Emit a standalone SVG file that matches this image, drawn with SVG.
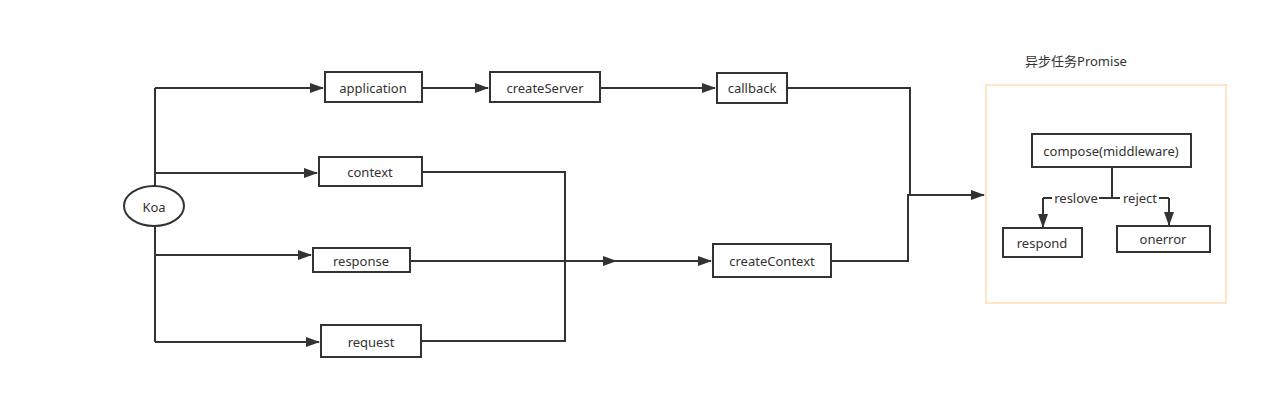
<svg xmlns="http://www.w3.org/2000/svg" width="1288" height="420" viewBox="0 0 1288 420">
<defs>
<marker id="arr" markerWidth="14" markerHeight="10" refX="13" refY="5" orient="auto" markerUnits="userSpaceOnUse">
<path d="M0,0 L14,5 L0,10 Z" fill="#333"/>
</marker>
<style>
.box{fill:#fff;stroke:#333;stroke-width:2}
.lbl{font-family:"Noto Sans","Noto Sans CJK SC",sans-serif;font-size:13px;fill:#333;text-anchor:middle;dominant-baseline:central}
.ln{fill:none;stroke:#333;stroke-width:2}
</style>
</defs>
<rect width="1288" height="420" fill="#fff"/>
<g id="connectors">
<path class="ln" d="M155,88 L155,342"/>
<path class="ln" d="M155,88 L323,88" marker-end="url(#arr)"/>
<path class="ln" d="M155,173 L317,173" marker-end="url(#arr)"/>
<path class="ln" d="M155,255 L311,255" marker-end="url(#arr)"/>
<path class="ln" d="M155,342 L319,342" marker-end="url(#arr)"/>
<path class="ln" d="M422,88 L488,88" marker-end="url(#arr)"/>
<path class="ln" d="M600,88 L715,88" marker-end="url(#arr)"/>
<path class="ln" d="M422,172 L565,172 L565,261 L711,261" marker-end="url(#arr)"/>
<path class="ln" d="M421,341 L565,341 L565,261"/>
<path class="ln" d="M410,261 L616,261" marker-end="url(#arr)" stroke-width="2.5"/>
<path class="ln" d="M787,88 L910,88 L910,195"/>
<path class="ln" d="M831,261 L908,261 L908,195 L984,195" marker-end="url(#arr)"/>
<path class="ln" d="M1112,167 L1112,198"/>
<path class="ln" d="M1043,198 L1169,198"/>
<path class="ln" d="M1043,198 L1043,227" marker-end="url(#arr)"/>
<path class="ln" d="M1169,198 L1169,225" marker-end="url(#arr)"/>
<rect x="1052" y="191" width="47" height="14" fill="#fff"/>
<text class="lbl" x="1076" y="198">reslove</text>
<rect x="1120" y="191" width="39" height="14" fill="#fff"/>
<text class="lbl" x="1140" y="198">reject</text>
</g>
<g id="promise">
<rect x="986" y="85" width="240" height="218" fill="none" stroke="#ffe4c8" stroke-width="2"/>
<text class="lbl" x="1076" y="61">异步任务Promise</text>
</g>
<g id="koa"><ellipse cx="154" cy="206" rx="30" ry="20" class="box"/><text class="lbl" x="154" y="207">Koa</text></g>
<g id="application"><rect class="box" x="325" y="72" width="97" height="30"/><text class="lbl" x="373" y="88">application</text></g>
<g id="createServer"><rect class="box" x="490" y="72" width="110" height="30"/><text class="lbl" x="545" y="88">createServer</text></g>
<g id="callback"><rect class="box" x="717" y="73" width="70" height="30"/><text class="lbl" x="752" y="88">callback</text></g>
<g id="context"><rect class="box" x="319" y="157" width="103" height="29"/><text class="lbl" x="370" y="172">context</text></g>
<g id="response"><rect class="box" x="313" y="248" width="97" height="24"/><text class="lbl" x="361" y="261">response</text></g>
<g id="request"><rect class="box" x="321" y="325" width="100" height="32"/><text class="lbl" x="371" y="342">request</text></g>
<g id="createContext"><rect class="box" x="713" y="244" width="118" height="33"/><text class="lbl" x="772" y="261">createContext</text></g>
<g id="compose"><rect class="box" x="1032" y="134" width="159" height="33"/><text class="lbl" x="1111" y="151">compose(middleware)</text></g>
<g id="respond"><rect class="box" x="1003" y="228" width="79" height="29"/><text class="lbl" x="1042" y="243">respond</text></g>
<g id="onerror"><rect class="box" x="1117" y="226" width="93" height="26"/><text class="lbl" x="1163" y="239">onerror</text></g>
</svg>
